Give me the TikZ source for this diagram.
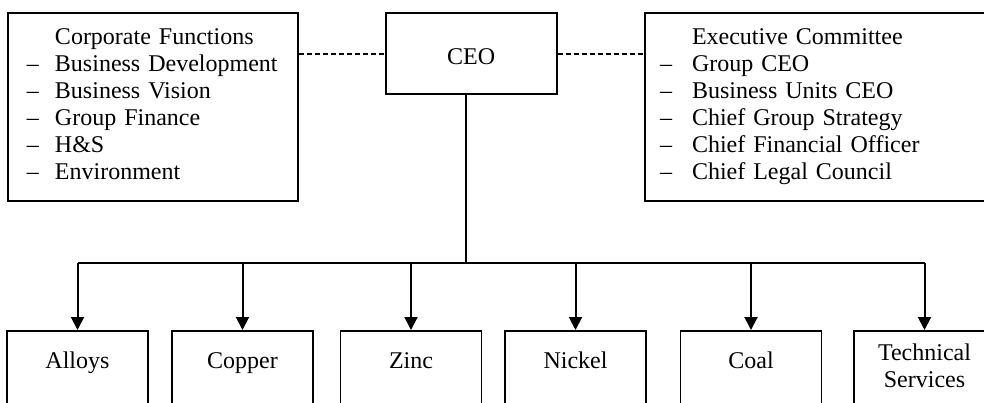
\documentclass[tikz,border=0pt]{standalone}
\usepackage{fontspec}
\setmainfont{Liberation Serif}
\usetikzlibrary{arrows.meta}
\begin{document}
\begin{tikzpicture}[x=1pt,y=-1pt,
  every node/.style={font=\fontsize{24}{27}\selectfont},
  box/.style={draw, line width=1.8pt, inner sep=0pt},
  listbox/.style={box, minimum height=188pt, align=left},
  unitbox/.style={box, minimum width=141pt, minimum height=80pt, anchor=north, align=center},
  link/.style={line width=2pt},
  dashlink/.style={line width=1.8pt, dash pattern=on 5pt off 3pt},
  arr/.style={line width=2pt, -{Triangle[width=13pt,length=13pt]}}
]
\useasboundingbox (0,0) rectangle (984,403);
\clip (0,0) rectangle (984,403);

\node[box, minimum width=171pt, minimum height=81pt] (ceo) at (471.2,53.8) {\raisebox{-10.5pt}[0pt][0pt]{CEO}};

\node[listbox, text width=252pt, inner xsep=19pt] (cf) at (153,107) {%
\begin{tabular}{@{}l@{}}
\hspace*{28pt}Corporate Functions\\
\makebox[28pt][l]{–}Business Development\\
\makebox[28pt][l]{–}Business Vision\\
\makebox[28pt][l]{–}Group Finance\\
\makebox[28pt][l]{–}H\&S\\
\makebox[28pt][l]{–}Environment
\end{tabular}};

\node[listbox, text width=325pt, inner xsep=15pt] (ec) at (822.5,107) {%
\begin{tabular}{@{}l@{}}
\hspace*{32pt}Executive Committee\\
\makebox[32pt][l]{–}Group CEO\\
\makebox[32pt][l]{–}Business Units CEO\\
\makebox[32pt][l]{–}Chief Group Strategy\\
\makebox[32pt][l]{–}Chief Financial Officer\\
\makebox[32pt][l]{–}Chief Legal Council
\end{tabular}};

\node[unitbox] (alloys) at (77.5,330) {\raisebox{2pt}[0pt][0pt]{Alloys}};
\node[unitbox] (copper) at (242.5,330) {\raisebox{2pt}[0pt][0pt]{Copper}};
\node[unitbox] (zinc) at (411,330) {\raisebox{2pt}[0pt][0pt]{Zinc}};
\node[unitbox] (nickel) at (575.5,330) {\raisebox{2pt}[0pt][0pt]{Nickel}};
\node[unitbox] (coal) at (751,330) {\raisebox{2pt}[0pt][0pt]{Coal}};
\node[unitbox] (tech) at (924.5,330) {\raisebox{-4pt}[0pt][0pt]{\begin{tabular}{@{}c@{}}Technical\\Services\end{tabular}}};

\coordinate (bus) at (465.7,263);

\draw[dashlink] (cf.east |- ceo.west) -- (ceo.west);
\draw[dashlink] (ceo.east) -- (ceo.east -| ec.west);
\draw[link] (bus |- ceo.south) -- (bus);
\draw[link] (alloys.north |- bus) -- (tech.north |- bus);
\foreach \n in {alloys,copper,zinc,nickel,coal,tech}
  \draw[arr] (\n.north |- bus) -- (\n.north);
\end{tikzpicture}
\end{document}
